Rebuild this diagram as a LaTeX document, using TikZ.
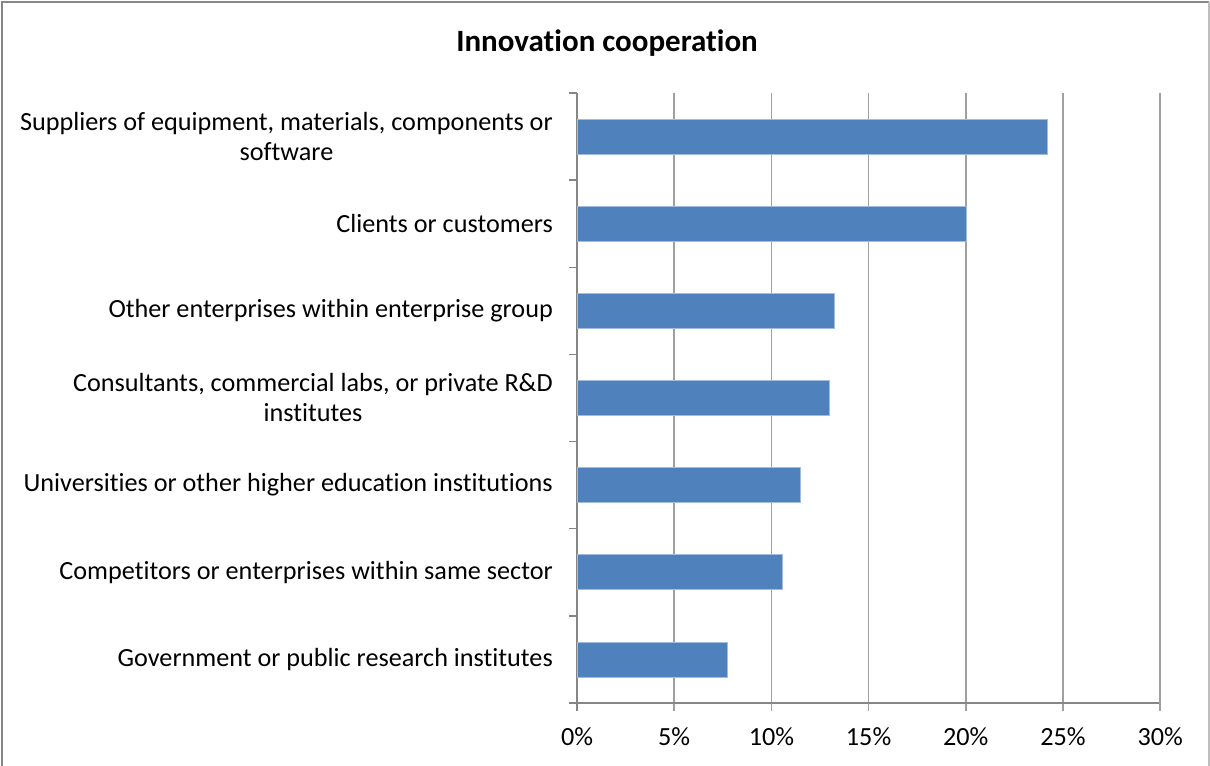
\documentclass[tikz,border=0pt]{standalone}
\usepackage{fontspec}
\setmainfont[Ligatures=NoCommon]{Carlito}
\usepackage{tikz}
\usetikzlibrary{positioning}
\definecolor{barblue}{RGB}{79,129,189}
\definecolor{baredge}{RGB}{160,188,222}
\definecolor{axisgray}{RGB}{134,134,134}
\definecolor{gridgray}{RGB}{160,160,160}
\definecolor{framegray}{RGB}{190,190,190}
\tikzstyle{bar} = [rectangle, minimum height=35bp, inner sep=0pt, draw=baredge, line width=0.6bp, fill=barblue]
\tikzstyle{catlabel} = [align=center, inner sep=0pt, font=\fontsize{26.2bp}{30bp}\selectfont]
\tikzstyle{ticklabel} = [inner sep=0pt, font=\fontsize{26.2bp}{30bp}\selectfont]
\tikzstyle{gridline} = [gridgray, line width=1.5bp]
\tikzstyle{axis} = [axisgray, line width=1.5bp]

\begin{document}
\begin{tikzpicture}[x=1bp, y=-1bp]
\useasboundingbox (0,0) rectangle (1210,766);
% frame
\draw[axisgray, line width=2.5bp] (2,766) -- (2,2) -- (1209,2);
\draw[framegray, line width=1.5bp] (1209,2) -- (1209,766);
\node[font=\bfseries\fontsize{31bp}{36bp}\selectfont] (title) at (607,43) {Innovation cooperation};
% grid and ticks
\foreach \p in {5,10,...,30}
  \draw[gridline] (577+\p*19.44,93) -- (577+\p*19.44,711);
\foreach \p in {0,5,...,30}
  \node[ticklabel] (tick\p) at (577+\p*19.44,737) {\p\%};
\draw[axis] (577,93) -- (577,711);
\draw[axis] (569,703) -- (1159,703);
\foreach \k in {0,...,7}
  \draw[axis] (569,93+\k*87.14) -- (577,93+\k*87.14);
% bars
\foreach \v/\lab [count=\i] in {24.17/{Suppliers of equipment, materials, components or\\software},
    20/{Clients or customers},
    13.2/{Other enterprises within enterprise group},
    12.95/{Consultants, commercial labs, or private R\&D\\institutes},
    11.46/{Universities or other higher education institutions},
    10.56/{Competitors or enterprises within same sector},
    7.74/{Government or public research institutes}} {
  \node[bar, anchor=west, minimum width=\v*19.44bp] (bar\i) at (577,{93+(\i-0.5)*87.14}) {};
  \node[catlabel, left=24bp of bar\i.west] (cat\i) {\lab};
}
\end{tikzpicture}
\end{document}
